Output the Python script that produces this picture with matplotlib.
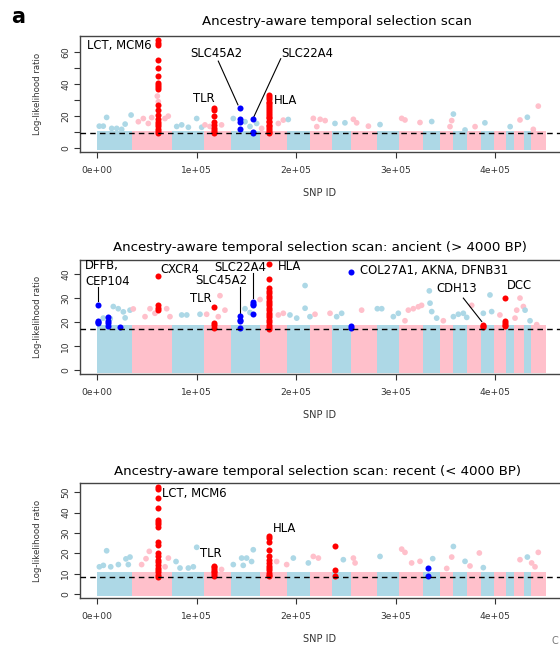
import numpy as np
import matplotlib.pyplot as plt

# --- data ---------------------------------------------------------------
# cumulative SNP index at the end of each chromosome (1..22)
chrom_ends = [34800, 75000, 107300, 134500, 163200, 190900, 214200, 236400,
              255400, 281300, 303900, 327200, 345100, 357700, 372000, 386400,
              398900, 411500, 418700, 429400, 436600, 450900]

titles = ["Ancestry-aware temporal selection scan",
          "Ancestry-aware temporal selection scan: ancient (> 4000 BP)",
          "Ancestry-aware temporal selection scan: recent (< 4000 BP)"]
thresholds = [9.0, 17.3, 8.5]
bulk_tops = [10.8, 19.0, 10.5]     # top of the dense mass of SNPs
y_maxes = [70.3, 45.8, 54.4]

# scattered non-significant SNPs above the dense mass
p1_bg_x = [2000, 6000, 9400, 14500, 19500, 24500, 28000, 34000, 41300, 46300,
           51300, 54700, 60400, 61400, 68100, 71400, 79900, 84900, 91600, 100000,
           105000, 108300, 113300, 125000, 136800, 148600, 153600, 160300, 165300,
           182100, 187100, 192100, 217300, 224200, 229200, 220800, 239100, 249100,
           257600, 260900, 272700, 284400, 306200, 309500, 324600, 336400, 358200,
           356500, 354800, 369900, 389900, 380000, 415300, 425200, 432600, 443600,
           438600]
p1_bg_y = [13.6, 13.6, 19.1, 12.2, 12.2, 11.6, 14.9, 20.6, 16.4, 18.4,
           15.3, 19.0, 32.5, 29.0, 18.4, 19.9, 13.4, 14.4, 12.9, 18.4,
           12.9, 14.4, 13.4, 14.4, 18.4, 16.4, 13.4, 15.3, 12.2,
           15.3, 17.4, 17.8, 18.5, 17.9, 17.1, 13.3, 15.3, 15.7,
           17.9, 15.7, 13.6, 14.6, 18.5, 17.5, 15.9, 16.5, 21.2,
           17.1, 13.3, 11.2, 15.7, 13.3, 13.3, 17.5, 19.2, 26.2,
           11.6]

p2_bg_x = [6000, 13000, 16100, 21100, 26200, 28000, 32900, 36200, 48000, 53000,
           58000, 69800, 73100, 84900, 90000, 103300, 110000, 121700, 123400,
           128400, 148600, 153600, 163700, 182100, 187100, 193800, 200600, 209000,
           209000, 213900, 219000, 234100, 240800, 245800, 265900, 281700, 286100,
           297800, 302800, 309500, 312900, 317900, 322900, 326200, 334000, 334700,
           336400, 341400, 348100, 358200, 363200, 368200, 371600, 376600, 388300,
           395000, 396700, 405000, 420200, 421900, 425200, 428600, 430300, 435300,
           442000]
p2_bg_y = [21.7, 21.5, 26.5, 25.6, 24.3, 21.8, 25.0, 25.5, 22.3, 25.6,
           23.7, 25.6, 22.3, 23.0, 23.0, 23.3, 23.3, 22.3, 31.0,
           25.0, 25.6, 24.0, 29.4, 23.0, 23.7, 23.0, 21.7, 35.2,
           25.8, 22.3, 23.3, 23.7, 22.3, 23.7, 25.0, 25.6, 25.6,
           22.3, 23.7, 20.6, 25.0, 25.6, 26.4, 27.0, 33.0, 27.9,
           24.4, 21.7, 20.6, 22.3, 23.3, 23.7, 22.0, 27.0, 23.7,
           31.3, 24.4, 23.0, 21.7, 25.0, 30.0, 26.5, 25.0, 20.6,
           19.0]

p3_bg_x = [2100, 6100, 9400, 13500, 21200, 28800, 31200, 32900, 44600, 49000,
           52300, 68200, 71500, 79200, 83200, 91600, 96600, 100000, 125000, 136800,
           145200, 146800, 150200, 155200, 156900, 180400, 190500, 197200, 212300,
           217300, 222400, 247500, 257600, 259300, 284400, 306200, 309500, 316200,
           324600, 337400, 351500, 356500, 358200, 369900, 374900, 384300, 388300,
           425200, 432600, 436900, 440300, 443600]
p3_bg_y = [13.3, 14.0, 21.2, 13.3, 14.4, 17.2, 14.4, 18.1, 14.4, 17.3,
           20.9, 13.3, 17.6, 15.9, 12.7, 12.7, 13.3, 22.9, 12.0, 14.4,
           17.6, 14.0, 17.6, 15.9, 21.7, 15.9, 14.4, 17.6, 15.2,
           18.4, 17.6, 16.8, 17.6, 15.2, 18.4, 22.0, 20.4, 15.2,
           16.0, 17.3, 12.5, 18.1, 23.3, 16.0, 13.7, 20.1, 12.9,
           16.8, 18.1, 15.2, 13.3, 20.4]

# significant loci: SNP index and the log-likelihood ratios in each column
p1_lct_x, p1_lct_y = 61400, [67.5, 66.0, 64.5, 55.0, 50.0, 45.0, 41.0, 39.5, 38.0, 37.0,
                             27.0, 24.0, 20.5, 18.0, 16.5, 15.0, 13.5, 12.0, 10.5, 9.2]
p1_tlr_x, p1_tlr_y = 117400, [24.8, 23.5, 20.0, 16.5, 14.5, 12.5, 11.0, 10.0, 9.2]
p1_slc45a2_x, p1_slc45a2_y = 143600, [25.3, 18.0, 16.5, 12.0]
p1_slc22a4_x, p1_slc22a4_y = 156300, [18.2, 10.0, 9.0]
p1_hla_x, p1_hla_y = 172700, [33.0, 31.8, 30.5, 29.0, 28.0, 26.8, 25.5, 24.5, 23.0, 22.0,
                              20.5, 19.5, 18.5, 17.0, 16.0, 14.5, 13.5, 12.3, 11.0, 10.0, 9.0]

p2_dffb_x, p2_dffb_y = 300, [27.2, 20.6, 20.0, 19.5]
p2_chr1b_x, p2_chr1b_y = 11100, [22.0, 20.5, 19.5, 18.5]
p2_chr1c_x, p2_chr1c_y = 22800, [18.0]
p2_cxcr4_x, p2_cxcr4_y = 60700, [39.2, 27.0, 26.0, 25.0]
p2_tlr_x, p2_tlr_y = 117400, [26.5, 19.7, 18.8, 17.8]
p2_slc45a2_x, p2_slc45a2_y = 143600, [22.5, 21.0, 20.3, 17.6]
p2_slc22a4_x, p2_slc22a4_y = 156300, [28.5, 27.5, 27.0, 23.4]
p2_hla_x, p2_hla_y = 172700, [44.0, 37.8, 34.0, 33.0, 32.0, 31.0, 30.0, 29.0, 28.0, 27.0,
                              26.0, 25.0, 24.0, 23.0, 22.0, 21.0, 20.0, 19.0, 18.0, 17.3]
p2_col27a1_x, p2_col27a1_y = 254900, [18.3, 17.8]
p2_cdh13_x, p2_cdh13_y = 387700, [19.0, 18.5, 18.0]
p2_dcc_x, p2_dcc_y = 410500, [30.0, 20.3, 19.7, 19.0, 18.3]

p3_lct_x, p3_lct_y = 61000, [52.4, 51.6, 47.1, 42.1, 36.4, 35.3, 34.2, 33.0, 25.3, 24.2,
                             20.1, 18.4, 16.8, 15.5, 14.4, 12.7, 11.6, 10.5, 9.4, 8.5]
p3_tlr_x, p3_tlr_y = 117400, [13.9, 13.0, 12.2, 11.4, 10.6, 9.8, 9.0]
p3_hla_x, p3_hla_y = 172700, [28.6, 27.4, 25.7, 21.7, 18.7, 16.8, 15.2, 13.9, 12.7, 11.6,
                              10.3, 9.2, 8.6]
p3_chr8_x, p3_chr8_y = 239100, [23.3, 11.6, 8.6]
p3_chr13_x, p3_chr13_y = 333000, [12.7, 8.6]

# --- drawing ---------------------------------------------------------------
W, H = 560, 648
BLUE_L, PINK = '#add8e6', '#ffc0cb'
RED, BLUE = '#ff0000', '#0000ff'

fig = plt.figure(figsize=(W / 100, H / 100), dpi=100)
plt.rcParams['font.family'] = 'DejaVu Sans'

# axes boxes in pixels: (top, bottom)
boxes = [(36, 151.7), (260, 374.3), (483.3, 597.7)]
left_px, right_px = 80, 570
title_pos = [(337, 21), (320, 247), (317, 472)]

starts = np.array([0] + chrom_ends[:-1])
ends = np.array(chrom_ends)
chrom_col = [BLUE_L if i % 2 == 0 else PINK for i in range(len(ends))]


def bg_colors(xs):
    idx = np.searchsorted(ends, xs)
    return [chrom_col[i] for i in idx]


axes = []
for k, (top, bot) in enumerate(boxes):
    ax = fig.add_axes([left_px / W, 1 - bot / H, (right_px - left_px) / W, (bot - top) / H])
    ymin = -y_maxes[k] * 0.035
    ax.set_xlim(-17400, 475500)
    ax.set_ylim(ymin, y_maxes[k])
    # dense mass of SNPs, one block per chromosome
    r = 2.6 * (y_maxes[k] - ymin) / (bot - top)
    ax.bar(starts, bulk_tops[k] + r, width=ends - starts, bottom=-r,
           align='edge', color=chrom_col, linewidth=0, zorder=1)
    axes.append(ax)

ax1, ax2, ax3 = axes
ms = 17

ax1.scatter(p1_bg_x, p1_bg_y, s=ms, c=bg_colors(p1_bg_x), linewidths=0, zorder=2)
ax2.scatter(p2_bg_x, p2_bg_y, s=ms, c=bg_colors(p2_bg_x), linewidths=0, zorder=2)
ax3.scatter(p3_bg_x, p3_bg_y, s=ms, c=bg_colors(p3_bg_x), linewidths=0, zorder=2)


def hit(ax, x, ys, col):
    ax.scatter([x] * len(ys), ys, s=ms + 2, c=col, linewidths=0, zorder=3)


hit(ax1, p1_lct_x, p1_lct_y, RED)
hit(ax1, p1_tlr_x, p1_tlr_y, RED)
hit(ax1, p1_slc45a2_x, p1_slc45a2_y, BLUE)
hit(ax1, p1_slc22a4_x, p1_slc22a4_y, BLUE)
hit(ax1, p1_hla_x, p1_hla_y, RED)

hit(ax2, p2_dffb_x, p2_dffb_y, BLUE)
hit(ax2, p2_chr1b_x, p2_chr1b_y, BLUE)
hit(ax2, p2_chr1c_x, p2_chr1c_y, BLUE)
hit(ax2, p2_cxcr4_x, p2_cxcr4_y, RED)
hit(ax2, p2_tlr_x, p2_tlr_y, RED)
hit(ax2, p2_slc45a2_x, p2_slc45a2_y, BLUE)
hit(ax2, p2_slc22a4_x, p2_slc22a4_y, BLUE)
hit(ax2, p2_hla_x, p2_hla_y, RED)
hit(ax2, p2_col27a1_x, p2_col27a1_y, BLUE)
hit(ax2, p2_cdh13_x, p2_cdh13_y, RED)
hit(ax2, p2_dcc_x, p2_dcc_y, RED)

hit(ax3, p3_lct_x, p3_lct_y, RED)
hit(ax3, p3_tlr_x, p3_tlr_y, RED)
hit(ax3, p3_hla_x, p3_hla_y, RED)
hit(ax3, p3_chr8_x, p3_chr8_y, RED)
hit(ax3, p3_chr13_x, p3_chr13_y, BLUE)

yticks = [np.arange(0, 70, 10), np.arange(0, 50, 10), np.arange(0, 60, 10)]
for k, ax in enumerate(axes):
    ax.axhline(thresholds[k], color='black', lw=1, ls=(0, (4, 3)), zorder=4)
    ax.set_xticks([0, 100000, 200000, 300000, 400000])
    ax.set_xticklabels(['0e+00', '1e+05', '2e+05', '3e+05', '4e+05'])
    ax.set_yticks(yticks[k])
    if k == 0:
        ax.set_yticklabels([str(v) if v % 20 == 0 else '' for v in yticks[k]])
    ax.tick_params(length=4, width=0.8, labelsize=6.6, pad=3, colors='#333333')
    ax.tick_params(axis='x', pad=6)
    ax.tick_params(axis='y', labelrotation=90)
    for lab in ax.get_yticklabels():
        lab.set_va('center')
    for sp in ax.spines.values():
        sp.set_linewidth(1.0)
        sp.set_color('#444444')
    top, bot = boxes[k]
    fig.text(37 / W, 1 - (top + bot) / 2 / H, 'Log-likelihood ratio', rotation=90,
             ha='center', va='center', fontsize=6.2, color='#333333')
    fig.text(320 / W, 1 - (bot + 41) / H, 'SNP ID', ha='center', va='center',
             fontsize=7, color='#333333')
    tx, ty = title_pos[k]
    fig.text(tx / W, 1 - ty / H, titles[k], ha='center', va='center', fontsize=9.6)

fs = 8.4
# panel 1 labels
ax1.text(-10000, 64.2, 'LCT, MCM6', ha='left', va='center', fontsize=fs)
ax1.text(96600, 31, 'TLR', ha='left', va='center', fontsize=fs)
ax1.text(93300, 59, 'SLC45A2', ha='left', va='center', fontsize=fs)
ax1.plot([121700, 141500], [54.5, 27], color='black', lw=0.8)
ax1.text(185500, 59, 'SLC22A4', ha='left', va='center', fontsize=fs)
ax1.plot([184500, 157500], [56, 19.5], color='black', lw=0.8)
ax1.text(177800, 30, 'HLA', ha='left', va='center', fontsize=fs)

# panel 2 labels
ax2.text(-12400, 40.2, 'DFFB,\nCEP104', ha='left', va='center', fontsize=fs, linespacing=1.25)
ax2.plot([300, 300], [34.8, 28.6], color='black', lw=0.8)
ax2.text(63800, 42, 'CXCR4', ha='left', va='center', fontsize=fs)
ax2.text(117400, 42.8, 'SLC22A4', ha='left', va='center', fontsize=fs)
ax2.plot([156300, 156300], [40.3, 30], color='black', lw=0.8)
ax2.text(98300, 37.1, 'SLC45A2', ha='left', va='center', fontsize=fs)
ax2.plot([143600, 143600], [34.8, 23.8], color='black', lw=0.8)
ax2.text(93300, 30, 'TLR', ha='left', va='center', fontsize=fs)
ax2.text(182100, 43, 'HLA', ha='left', va='center', fontsize=fs)
ax2.scatter([p2_col27a1_x], [41], s=ms + 2, c=BLUE, linewidths=0, zorder=3)
ax2.text(264300, 41.3, 'COL27A1, AKNA, DFNB31', ha='left', va='center', fontsize=fs)
ax2.text(340700, 33.8, 'CDH13', ha='left', va='center', fontsize=fs)
ax2.plot([368200, 386700], [30, 20.3], color='black', lw=0.8)
ax2.text(412500, 35.2, 'DCC', ha='left', va='center', fontsize=fs)

# panel 3 labels
ax3.text(64800, 49.2, 'LCT, MCM6', ha='left', va='center', fontsize=fs)
ax3.text(103300, 19.8, 'TLR', ha='left', va='center', fontsize=fs)
ax3.text(177100, 32.3, 'HLA', ha='left', va='center', fontsize=fs)

fig.text(18 / W, 1 - 17 / H, 'a', ha='center', va='center', fontsize=15, fontweight='bold')
fig.text(551 / W, 1 - 641 / H, 'C', ha='left', va='center', fontsize=7, color='#777777')

fig.savefig('out.png', dpi=100)
